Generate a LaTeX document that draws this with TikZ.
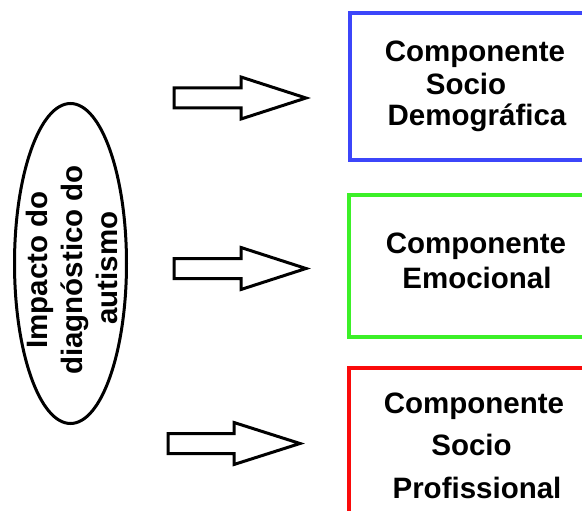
\documentclass[tikz,border=0pt]{standalone}
\usepackage{fontspec}
\setmainfont{Liberation Sans}
\usetikzlibrary{shapes.geometric}
\definecolor{boxblue}{RGB}{60,70,250}
\definecolor{boxgreen}{RGB}{60,240,40}
\definecolor{boxred}{RGB}{250,10,10}
\tikzset{
  lbl/.style={font=\fontsize{29.5}{34}\selectfont\bfseries, inner sep=0pt, anchor=base},
  vlbl/.style={lbl, rotate=90},
  frame/.style={line width=4pt, fill=none},
  arr/.style={draw=black, line width=3pt, line join=miter, fill=white}
}
\newcommand{\blockarrow}[4]{%
  \draw[arr] (#1,#2-10) -- (#3,#2-10) -- (#3,#2-21) -- (#4,#2) -- (#3,#2+21) -- (#3,#2+10) -- (#1,#2+10) -- cycle;}
\begin{document}
\begin{tikzpicture}[x=1pt,y=-1pt]
\useasboundingbox (0,0) rectangle (582,511);
\begin{scope}
\clip (0,0) rectangle (582,511);
% ellipse
\node[ellipse, draw, line width=3pt, minimum width=112pt, minimum height=320pt, inner sep=0pt] (ell) at (70.5,263.5) {};
\node[vlbl] (e1) at (48,270) {Impacto do};
\node[vlbl] (e2) at (82,270) {diagnóstico do};
\node[vlbl] (e3) at (117,268) {autismo};
% boxes
\node[frame, draw=boxblue, rectangle, minimum width=260pt, minimum height=146.5pt, inner sep=0pt] (bblue) at (480,86.75) {};
\node[frame, draw=boxgreen, rectangle, minimum width=262pt, minimum height=142pt, inner sep=0pt] (bgreen) at (480,266) {};
\node[frame, draw=boxred, rectangle, minimum width=262pt, minimum height=170pt, inner sep=0pt] (bred) at (480,453) {};
% texts
\node[lbl] (t1a) at (475,62) {Componente};
\node[lbl] (t1b) at (466,95) {Socio};
\node[lbl] (t1c) at (477,125) {Demográfica};
\node[lbl] (t2a) at (476,253) {Componente};
\node[lbl] (t2b) at (477,288) {Emocional};
\node[lbl] (t3a) at (474,413) {Componente};
\node[lbl] (t3b) at (471.5,455) {Socio};
\node[lbl] (t3c) at (477,498) {Profissional};
% arrows
\blockarrow{174}{98}{241}{306}
\blockarrow{174}{268.5}{241}{306}
\blockarrow{168}{443.5}{234}{300}
\end{scope}
\end{tikzpicture}
\end{document}
